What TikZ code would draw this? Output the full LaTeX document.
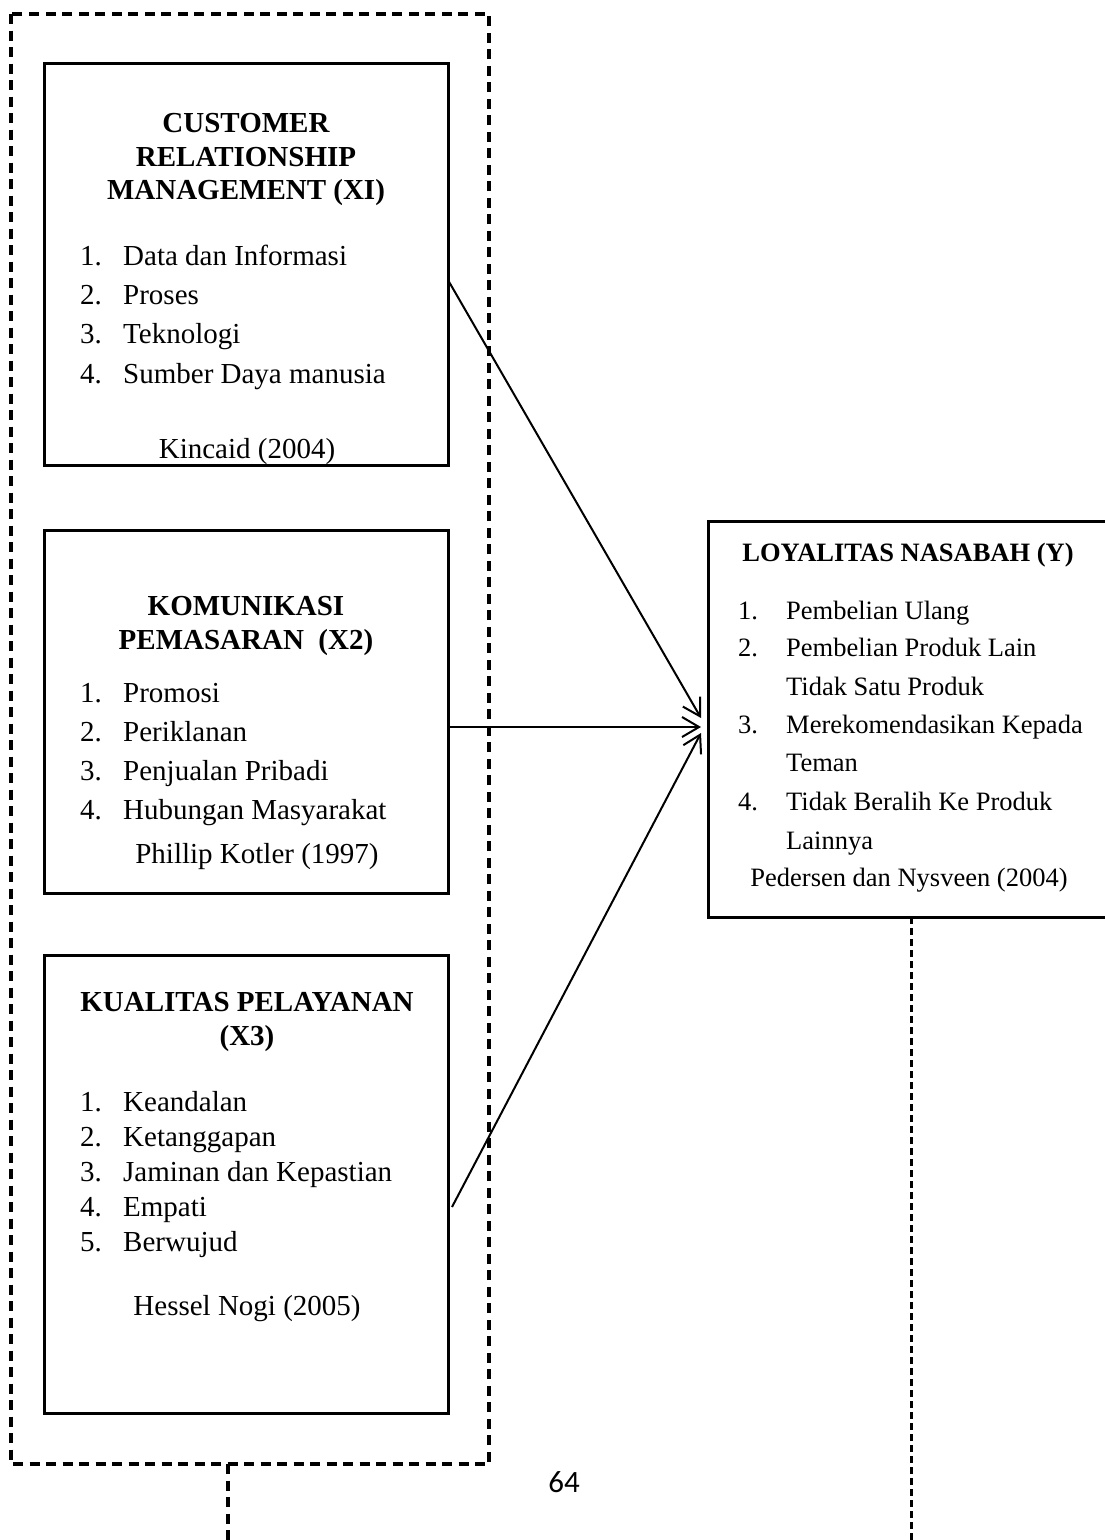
\documentclass[tikz,border=0pt]{standalone}
\usepackage{fontspec}
\setmainfont{Liberation Serif}
\newfontfamily\pagefont{Carlito}
\usetikzlibrary{arrows.meta}
\begin{document}
\begin{tikzpicture}[x=1pt,y=-1pt,
  varbox/.style={draw=black, line width=3pt, rectangle, inner sep=0pt, outer sep=0pt, anchor=north west},
  dashframe/.style={draw=black, line width=3.3pt, dash pattern=on 10pt off 6.5pt},
  dashline/.style={draw=black, line width=3pt, dash pattern=on 7pt off 4pt},
  arr/.style={draw=black, line width=2pt, -{Straight Barb[length=17pt,width=20pt,line width=2pt]}},
  ttl/.style={inner sep=0pt, anchor=base, font=\fontsize{29}{33}\selectfont\bfseries},
  txt/.style={inner sep=0pt, anchor=base west, font=\fontsize{29}{33}\selectfont},
  ctxt/.style={inner sep=0pt, anchor=base, font=\fontsize{29}{33}\selectfont},
  rttl/.style={inner sep=0pt, anchor=base, font=\fontsize{26.5}{30}\selectfont\bfseries},
  rtxt/.style={inner sep=0pt, anchor=base west, font=\fontsize{26.5}{30}\selectfont},
  rctxt/.style={inner sep=0pt, anchor=base, font=\fontsize{26.5}{30}\selectfont}]
\useasboundingbox (0,0) rectangle (1104,1540);

% group frame
\node[draw=none, rectangle, inner sep=0pt, outer sep=0pt, anchor=north west,
      minimum width=478pt, minimum height=1450pt] (grp) at (11,14) {};
\draw[dashframe] (grp.north west) rectangle (grp.south east);
\coordinate (stubend) at (228,1540);
\draw[dashframe] (stubend |- grp.south) -- (stubend);

% boxes
\node[varbox, minimum width=404pt, minimum height=402pt] (b1) at (44,63) {};
\node[varbox, minimum width=404pt, minimum height=363pt] (b2) at (44,530) {};
\node[varbox, minimum width=404pt, minimum height=458pt] (b3) at (44,955) {};
\node[varbox, minimum width=404pt, minimum height=396pt] (Y) at (708,521) {};

% box 1
\node[ttl] (b1t1) at (246,132.7) {CUSTOMER};
\node[ttl] (b1t2) at (246,166) {RELATIONSHIP};
\node[ttl] (b1t3) at (246,199.3) {MANAGEMENT (XI)};
\foreach \n/\t/\yy [count=\i] in {1./Data dan Informasi/265.5, 2./Proses/304.7, 3./Teknologi/343.9, 4./Sumber Daya manusia/383.1}{
  \node[txt] (b1n\i) at (80,\yy) {\n};
  \node[txt] (b1i\i) at (123,\yy) {\t};
}
\node[ctxt] (b1c) at (247,458) {Kincaid (2004)};

% box 2
\node[ttl] (b2t1) at (246,615) {KOMUNIKASI};
\node[ttl] (b2t2) at (246,649) {PEMASARAN \ (X2)};
\foreach \n/\t/\yy [count=\i] in {1./Promosi/702, 2./Periklanan/741, 3./Penjualan Pribadi/780, 4./Hubungan Masyarakat/819}{
  \node[txt] (b2n\i) at (80,\yy) {\n};
  \node[txt] (b2i\i) at (123,\yy) {\t};
}
\node[ctxt] (b2c) at (257,863) {Phillip Kotler (1997)};

% box 3
\node[ttl] (b3t1) at (247,1011) {KUALITAS PELAYANAN};
\node[ttl] (b3t2) at (247,1045) {(X3)};
\foreach \n/\t/\yy [count=\i] in {1./Keandalan/1111.5, 2./Ketanggapan/1146.5, 3./Jaminan dan Kepastian/1181.5, 4./Empati/1216.5, 5./Berwujud/1251.5}{
  \node[txt] (b3n\i) at (80,\yy) {\n};
  \node[txt] (b3i\i) at (123,\yy) {\t};
}
\node[ctxt] (b3c) at (247,1315) {Hessel Nogi (2005)};

% box Y
\node[rttl] (yt) at (908,561) {LOYALITAS NASABAH (Y)};
\foreach \n/\yy [count=\i] in {1./619, 2./656, 3./733, 4./810}{
  \node[rtxt] (yn\i) at (738,\yy) {\n};
}
\foreach \t/\yy [count=\i] in {Pembelian Ulang/619, Pembelian Produk Lain/656, Tidak Satu Produk/695, Merekomendasikan Kepada/733, Teman/771, Tidak Beralih Ke Produk/810, Lainnya/849}{
  \node[rtxt] (yi\i) at (786,\yy) {\t};
}
\node[rctxt] (yc) at (909,886) {Pedersen dan Nysveen (2004)};

% dashed line below Y
\coordinate (yend) at (911,1540);
\draw[dashline] (yend |- Y.south) -- (yend);

% arrows
\draw[arr] ([yshift=-16pt]b1.east) -- ([xshift=-7pt,yshift=1pt]Y.west);
\draw[arr] ([yshift=-15.5pt]b2.east) -- ([xshift=-7pt,yshift=-8pt]Y.west);
\draw[arr] ([xshift=4pt,yshift=-23pt]b3.east) -- ([xshift=-7pt,yshift=-14pt]Y.west);

% page number
\node[inner sep=0pt, font=\pagefont\fontsize{31}{31}\selectfont] (pg) at (564,1482) {64};
\end{tikzpicture}
\end{document}
